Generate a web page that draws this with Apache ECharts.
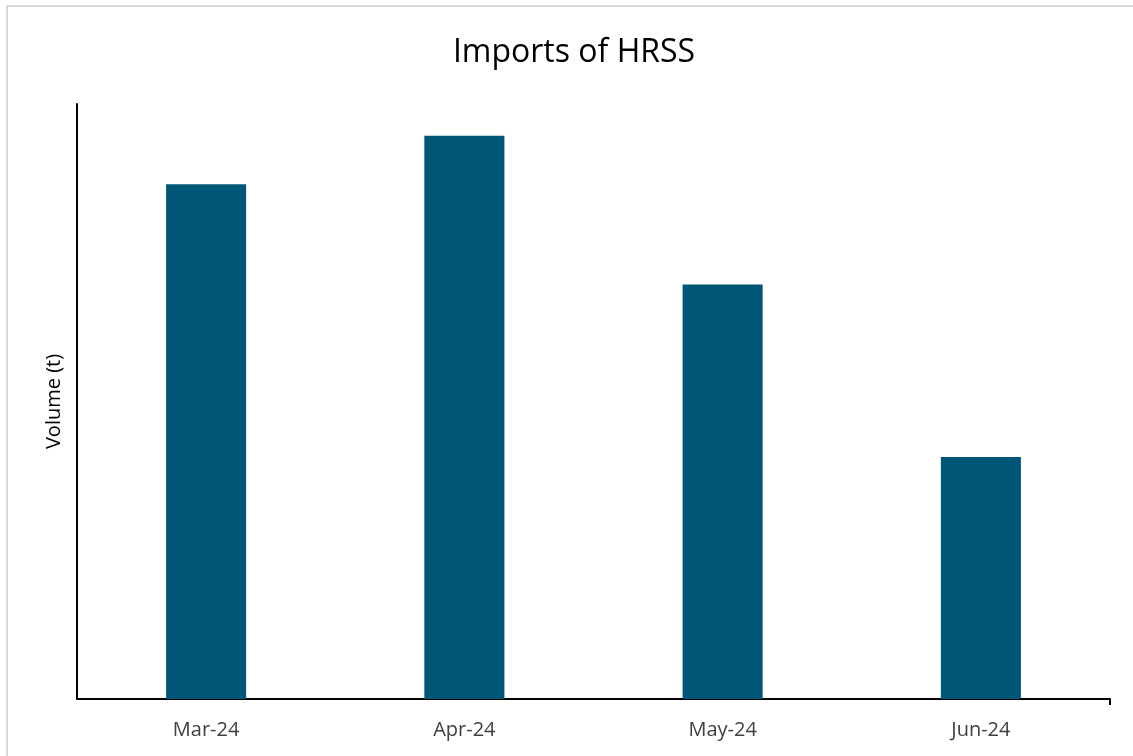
<!DOCTYPE html>
<html>
<head>
<meta charset="utf-8">
<script src="https://cdn.jsdelivr.net/npm/echarts@6/dist/echarts.min.js"></script>
<style>
  html, body { margin: 0; padding: 0; background: #fff; }
  #frame { position: absolute; left: 6px; top: 5px; width: 1127px; height: 751px;
           border-left: 2px solid #d9d9d9; border-top: 2px solid #d9d9d9; box-sizing: border-box; }
  #chart { position: absolute; left: 0; top: 0; width: 1133px; height: 756px; }
</style>
</head>
<body>
<div id="frame"></div>
<div id="chart"></div>
<script>
// Monthly HRSS import volumes (tonnes)
const months = ['Mar-24', 'Apr-24', 'May-24', 'Jun-24'];
const volumes = [5190, 5680, 4180, 2440];
const axisMax = 6000;

const chart = echarts.init(document.getElementById('chart'), null, { renderer: 'canvas' });
chart.setOption({
  animation: false,
  backgroundColor: 'transparent',
  title: {
    text: 'Imports of HRSS',
    left: 569,
    textAlign: 'center',
    top: 32,
    textStyle: { fontFamily: 'Open Sans', fontSize: 32, fontWeight: 'normal', color: '#000' }
  },
  grid: { left: 77, right: 23, top: 104, bottom: 57 },
  xAxis: [
    {
      type: 'category',
      data: months,
      axisLine: { lineStyle: { color: '#000', width: 2 } },
      axisTick: { alignWithLabel: true, length: 6, lineStyle: { color: '#000', width: 2 } },
      axisLabel: { fontFamily: 'Open Sans', fontSize: 20, color: '#404040', margin: 21 }
    },
    {
      // right-end tick of the category axis
      type: 'value',
      position: 'bottom',
      min: 0, max: 4,
      axisLine: { show: false },
      axisLabel: { show: false },
      splitLine: { show: false },
      axisTick: { show: true, customValues: [4], length: 6, lineStyle: { color: '#000', width: 2 } }
    }
  ],
  yAxis: {
    type: 'value',
    min: 0,
    max: axisMax,
    name: 'Volume (t)',
    nameLocation: 'middle',
    nameGap: 13,
    nameTextStyle: { fontFamily: 'Open Sans', fontSize: 20, color: '#000' },
    axisLine: { show: true, lineStyle: { color: '#000', width: 2 } },
    axisTick: { show: false },
    axisLabel: { show: false },
    splitLine: { show: false }
  },
  series: [{
    type: 'bar',
    xAxisIndex: 0,
    data: volumes,
    barWidth: '31%',
    itemStyle: { color: '#005677' }
  }]
});
</script>
</body>
</html>
